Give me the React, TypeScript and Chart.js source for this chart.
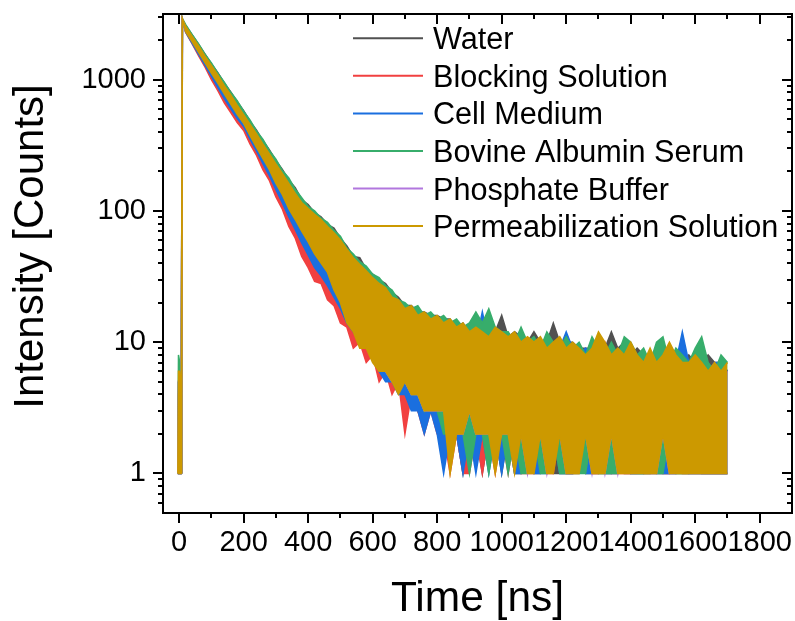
import { useEffect, useRef } from 'react';
import { Chart, registerables } from 'chart.js';

Chart.register(...registerables);

const FONT = '"Liberation Sans", Arial, Helvetica, sans-serif';

// Time channels (ns): a short pre-pulse, the excitation edge, then the decay sampled every 20 ns.
const TIME_NS = [
  -4, -2, 2, 6, 8, 10,
  20, 40, 60, 80, 100, 120, 140, 160, 180, 200,
  220, 240, 260, 280, 300, 320, 340, 360, 380, 400,
  420, 440, 460, 480, 500, 520, 540, 560, 580, 600,
  620, 640, 660, 680, 700, 720, 740, 760, 780, 800,
  820, 840, 860, 880, 900, 920, 940, 960, 980, 1000,
  1020, 1040, 1060, 1080, 1100, 1120, 1140, 1160, 1180, 1200,
  1220, 1240, 1260, 1280, 1300, 1320, 1340, 1360, 1380, 1400,
  1420, 1440, 1460, 1480, 1500, 1520, 1540, 1560, 1580, 1600,
  1620, 1640, 1660, 1680, 1700,
];

// Highest and lowest photon counts recorded in each time channel.
const WATER_UPPER = [
  1, 5, 6, 4, 1, 2880,
  2600, 2200, 1860, 1570, 1320, 1130, 945, 805, 680, 580,
  480, 412, 342, 292, 242, 207, 172, 150, 122, 112,
  97, 90, 79, 74, 62, 54, 45, 44, 36, 33,
  30, 28, 24, 22, 19, 19, 17, 17, 16, 16,
  15, 15, 13, 14, 12, 13, 11, 13, 12, 16,
  11, 12, 11, 10, 12, 10, 10, 14, 10, 10,
  10, 9, 9, 9, 10, 9, 12, 9, 10, 8,
  9, 8, 8, 8, 9, 8, 8, 7, 8, 7,
  7, 8, 7, 7, 6,
];
const WATER_LOWER = [
  1, 1, 1, 1, 1, 2880,
  2370, 1990, 1660, 1380, 1160, 975, 815, 685, 570, 478,
  398, 328, 268, 222, 178, 146, 118, 96, 79, 66,
  54, 45, 38, 30, 24, 18, 14, 12, 10, 8,
  7, 7, 6, 5, 4, 4, 3, 4, 3, 3,
  2, 3, 2, 1, 2, 2, 1, 2, 2, 1,
  2, 1, 1, 2, 1, 1, 2, 1, 1, 1,
  1, 2, 1, 1, 1, 1, 1, 2, 1, 1,
  1, 1, 1, 2, 1, 1, 1, 1, 1, 2,
  1, 1, 1, 1, 1,
];

const BLOCKING_UPPER = [
  1, 4, 5, 3, 1, 2860,
  2450, 2030, 1680, 1390, 1150, 950, 790, 660, 555, 470,
  395, 330, 275, 225, 188, 155, 128, 106, 88, 75,
  64, 56, 48, 42, 36, 32, 28, 25, 22, 20,
  18, 16, 15, 14, 13, 12, 12, 11, 11, 10,
  10, 11, 10, 9, 10, 9, 10, 9, 8, 9,
  9, 8, 9, 8, 9, 8, 8, 9, 8, 7,
  8, 7, 8, 7, 8, 10, 7, 8, 7, 7,
  7, 8, 7, 7, 8, 7, 7, 6, 7, 7,
  7, 6, 7, 6, 6,
];
const BLOCKING_LOWER = [
  1, 1, 1, 1, 1, 2860,
  2300, 1880, 1520, 1250, 1000, 825, 665, 560, 470, 410,
  322, 265, 205, 170, 128, 103, 76, 62, 45, 37,
  29, 28, 21, 19, 14, 13, 9, 10, 7, 8,
  5, 6, 4, 5, 2, 4, 3, 2, 3, 2,
  2, 1, 2, 1, 1, 2, 1, 2, 1, 2,
  1, 2, 1, 1, 1, 2, 1, 1, 2, 1,
  1, 1, 2, 1, 1, 2, 1, 1, 1, 1,
  2, 1, 1, 1, 1, 1, 2, 1, 1, 1,
  1, 1, 1, 1, 1,
];

const CELL_UPPER = [
  1, 5, 4, 5, 1, 2870,
  2470, 2060, 1720, 1430, 1190, 990, 830, 695, 585, 495,
  415, 350, 292, 242, 200, 166, 138, 115, 96, 82,
  70, 62, 54, 47, 41, 36, 32, 28, 25, 22,
  20, 18, 17, 15, 14, 14, 13, 12, 13, 12,
  11, 12, 11, 10, 11, 10, 17, 10, 10, 9,
  10, 9, 10, 9, 8, 10, 9, 8, 9, 12,
  9, 8, 9, 8, 8, 9, 8, 8, 9, 8,
  8, 7, 8, 8, 7, 8, 7, 12, 7, 7,
  7, 6, 7, 7, 6,
];
const CELL_LOWER = [
  1, 1, 1, 1, 1, 2870,
  2310, 1900, 1560, 1290, 1060, 870, 715, 600, 505, 440,
  350, 285, 228, 185, 145, 115, 90, 72, 57, 46,
  37, 32, 27, 22, 18, 14, 12, 10, 9, 8,
  6, 5, 5, 4, 4, 3, 3, 2, 3, 2,
  1, 2, 2, 1, 2, 1, 2, 1, 2, 1,
  2, 1, 1, 2, 1, 1, 1, 2, 1, 1,
  1, 2, 1, 1, 2, 1, 1, 1, 2, 1,
  1, 1, 2, 1, 1, 1, 1, 2, 1, 1,
  1, 1, 1, 1, 1,
];

const BOVINE_UPPER = [
  1, 8, 7, 6, 1, 2920,
  2630, 2210, 1880, 1560, 1340, 1120, 955, 800, 690, 575,
  490, 405, 350, 288, 248, 203, 178, 146, 126, 108,
  100, 88, 82, 71, 64, 52, 47, 41, 38, 33,
  31, 27, 25, 21, 20, 18, 19, 16, 17, 15,
  16, 14, 15, 13, 14, 17, 14, 18, 13, 12,
  12, 10, 13, 10, 11, 9, 12, 10, 9, 11,
  9, 10, 8, 11, 9, 8, 10, 8, 11, 10,
  8, 9, 7, 10, 11, 7, 9, 8, 7, 9,
  11, 7, 6, 8, 7,
];
const BOVINE_LOWER = [
  1, 1, 1, 1, 1, 2920,
  2380, 2000, 1670, 1390, 1170, 980, 820, 690, 575, 480,
  400, 330, 270, 225, 180, 148, 120, 98, 80, 67,
  55, 46, 39, 31, 25, 19, 15, 12, 10, 9,
  8, 7, 6, 5, 5, 4, 4, 3, 4, 3,
  2, 2, 3, 2, 1, 2, 2, 1, 2, 2,
  1, 2, 1, 1, 2, 1, 1, 2, 1, 1,
  1, 1, 1, 2, 1, 1, 1, 1, 2, 1,
  1, 1, 1, 1, 1, 2, 1, 1, 1, 1,
  1, 1, 1, 1, 1,
];

const PHOSPHATE_UPPER = [
  1, 5, 5, 4, 1, 2890,
  2500, 2100, 1770, 1480, 1250, 1055, 880, 745, 625, 528,
  445, 376, 315, 266, 222, 188, 158, 133, 113, 100,
  90, 82, 73, 65, 57, 49, 43, 38, 34, 30,
  27, 24, 21, 20, 17, 17, 16, 15, 14, 14,
  13, 13, 12, 12, 11, 12, 11, 10, 11, 11,
  10, 10, 9, 10, 9, 10, 8, 9, 10, 8,
  9, 8, 7, 8, 7, 9, 7, 8, 7, 7,
  7, 6, 8, 6, 7, 6, 7, 6, 6, 7,
  6, 5, 6, 5, 6,
];
const PHOSPHATE_LOWER = [
  1, 1, 1, 1, 1, 2890,
  2360, 1980, 1650, 1380, 1150, 960, 800, 665, 560, 468,
  385, 315, 258, 212, 168, 138, 108, 89, 73, 61,
  50, 42, 35, 27, 22, 16, 13, 10, 9, 8,
  7, 6, 5, 5, 5, 4, 4, 3, 3, 3,
  3, 2, 2, 2, 3, 2, 2, 2, 2, 2,
  2, 2, 2, 1, 2, 2, 1, 2, 2, 1,
  1, 2, 2, 1, 2, 1, 2, 1, 2, 1,
  1, 2, 1, 1, 2, 1, 1, 2, 1, 1,
  1, 1, 1, 1, 1,
];

const PERMEABILIZATION_UPPER = [
  1, 6, 6, 5, 1, 2900,
  2550, 2140, 1810, 1510, 1280, 1080, 900, 765, 640, 540,
  455, 385, 322, 272, 228, 193, 162, 136, 116, 104,
  94, 86, 76, 68, 60, 51, 44, 39, 35, 31,
  28, 26, 22, 21, 18, 19, 16, 17, 15, 16,
  14, 15, 13, 14, 12, 13, 12, 11, 13, 12,
  11, 12, 10, 11, 10, 11, 9, 10, 11, 9,
  10, 9, 8, 9, 12, 10, 8, 9, 8, 10,
  8, 7, 9, 7, 8, 10, 8, 7, 7, 8,
  7, 6, 7, 6, 7,
];
const PERMEABILIZATION_LOWER = [
  1, 1, 1, 1, 1, 2900,
  2330, 1950, 1620, 1350, 1120, 940, 780, 650, 545, 465,
  375, 305, 250, 205, 162, 133, 104, 86, 70, 58,
  47, 40, 34, 25, 20, 14, 12, 9, 9, 7,
  6, 6, 5, 4, 5, 4, 4, 3, 3, 3,
  3, 1, 2, 2, 3, 2, 2, 2, 1, 2,
  2, 1, 2, 1, 1, 2, 1, 1, 2, 1,
  1, 1, 2, 1, 1, 1, 2, 1, 1, 1,
  1, 1, 1, 1, 2, 1, 1, 1, 1, 1,
  1, 1, 1, 1, 1,
];

const X_TICKS = [0, 200, 400, 600, 800, 1000, 1200, 1400, 1600, 1800];
const X_MINOR_TICKS = [100, 300, 500, 700, 900, 1100, 1300, 1500, 1700];
const Y_TICKS = [1, 10, 100, 1000];
const Y_MINOR_TICKS = [
  0.6, 0.7, 0.8, 0.9,
  2, 3, 4, 5, 6, 7, 8, 9,
  20, 30, 40, 50, 60, 70, 80, 90,
  200, 300, 400, 500, 600, 700, 800, 900,
  2000, 3000,
];

const SERIES = [
  { label: 'Water', color: '#515151', upper: WATER_UPPER, lower: WATER_LOWER },
  { label: 'Blocking Solution', color: '#F14040', upper: BLOCKING_UPPER, lower: BLOCKING_LOWER },
  { label: 'Cell Medium', color: '#1A6FDF', upper: CELL_UPPER, lower: CELL_LOWER },
  { label: 'Bovine Albumin Serum', color: '#37AD6B', upper: BOVINE_UPPER, lower: BOVINE_LOWER },
  { label: 'Phosphate Buffer', color: '#B177DE', upper: PHOSPHATE_UPPER, lower: PHOSPHATE_LOWER },
  { label: 'Permeabilization Solution', color: '#CC9900', upper: PERMEABILIZATION_UPPER, lower: PERMEABILIZATION_LOWER },
];

const toPoints = (values: number[]) => TIME_NS.map((t, i) => ({ x: t, y: values[i] }));

// Each curve is a band: the upper trace is filled down to its lower trace.
const datasets: any[] = [];
SERIES.forEach((s, k) => {
  const order = SERIES.length - k;
  datasets.push({
    label: s.label,
    data: toPoints(s.upper),
    borderColor: s.color,
    backgroundColor: s.color,
    borderWidth: 1.5,
    pointRadius: 0,
    tension: 0,
    fill: '+1',
    order,
  });
  datasets.push({
    label: s.label + ' min',
    data: toPoints(s.lower),
    borderColor: s.color,
    backgroundColor: s.color,
    borderWidth: 1.5,
    pointRadius: 0,
    tension: 0,
    fill: false,
    order,
  });
});

// Closed frame with outward ticks on bottom/left and inward ticks on top/right.
const framePlugin = {
  id: 'decayFrame',
  afterDraw(chart: any) {
    const { ctx, chartArea: a, scales } = chart;
    const xs = scales.x;
    const ys = scales.y;
    ctx.save();
    ctx.strokeStyle = '#000';
    ctx.lineWidth = 2;
    ctx.beginPath();
    const xTick = (v: number, len: number) => {
      const p = Math.round(xs.getPixelForValue(v));
      ctx.moveTo(p, a.bottom);
      ctx.lineTo(p, a.bottom + len);
      ctx.moveTo(p, a.top);
      ctx.lineTo(p, a.top + len);
    };
    const yTick = (v: number, len: number) => {
      const p = Math.round(ys.getPixelForValue(v));
      ctx.moveTo(a.left - len, p);
      ctx.lineTo(a.left, p);
      ctx.moveTo(a.right - len, p);
      ctx.lineTo(a.right, p);
    };
    X_TICKS.forEach((v) => xTick(v, 10));
    X_MINOR_TICKS.forEach((v) => xTick(v, 5));
    Y_TICKS.forEach((v) => yTick(v, 10));
    Y_MINOR_TICKS.forEach((v) => yTick(v, 5));
    ctx.stroke();
    ctx.strokeRect(a.left, a.top, a.right - a.left, a.bottom - a.top);
    ctx.restore();
  },
};

const legendPlugin = {
  id: 'decayLegend',
  afterDraw(chart: any) {
    const { ctx, chartArea: a } = chart;
    ctx.save();
    ctx.font = `30.6px ${FONT}`;
    ctx.textAlign = 'left';
    ctx.textBaseline = 'alphabetic';
    SERIES.forEach((s, i) => {
      const y = a.top + 24.3 + 37.55 * i;
      ctx.strokeStyle = s.color;
      ctx.lineWidth = 2;
      ctx.beginPath();
      ctx.moveTo(a.right - 439, y);
      ctx.lineTo(a.right - 369, y);
      ctx.stroke();
      ctx.fillStyle = '#000';
      ctx.fillText(s.label, a.right - 359, y + 11);
    });
    ctx.restore();
  },
};

const titlePlugin = {
  id: 'decayTitles',
  afterDraw(chart: any) {
    const { ctx, chartArea: a } = chart;
    ctx.save();
    ctx.font = `42.5px ${FONT}`;
    ctx.fillStyle = '#000';
    ctx.textAlign = 'center';
    ctx.textBaseline = 'alphabetic';
    ctx.fillText('Time [ns]', (a.left + a.right) / 2, a.bottom + 98);
    ctx.font = `42px ${FONT}`;
    ctx.translate(a.left - 120, (a.top + a.bottom) / 2 - 17);
    ctx.rotate(-Math.PI / 2);
    ctx.fillText('Intensity [Counts]', 0, 0);
    ctx.restore();
  },
};

// Fixed axis boxes so the plotting area keeps its size regardless of label overflow.
const fixBox = (size: { width?: number; height?: number }) => (scale: any) => {
  if (size.width !== undefined) scale.width = size.width;
  if (size.height !== undefined) scale.height = size.height;
  scale.paddingLeft = 0;
  scale.paddingRight = 0;
  scale.paddingTop = 0;
  scale.paddingBottom = 0;
};

export default function App() {
  const canvasRef = useRef<HTMLCanvasElement>(null);

  useEffect(() => {
    const canvas = canvasRef.current;
    if (!canvas) return;
    const tickFont = { family: FONT, size: 29 };
    const chart = new Chart(canvas, {
      type: 'line',
      data: { datasets },
      options: {
        animation: false,
        responsive: false,
        devicePixelRatio: 1,
        parsing: false as any,
        normalized: true,
        layout: { padding: { top: 14, right: 3, left: 0, bottom: 0 } },
        plugins: {
          legend: { display: false },
          tooltip: { enabled: false },
        },
        scales: {
          x: {
            type: 'linear',
            min: -50,
            max: 1900,
            afterBuildTicks: (scale: any) => {
              scale.ticks = X_TICKS.map((value) => ({ value }));
            },
            afterFit: fixBox({ height: 108 }),
            grid: { display: false, drawTicks: false },
            border: { display: false },
            ticks: {
              font: tickFont,
              color: '#000',
              padding: 13,
              autoSkip: false,
              maxRotation: 0,
              minRotation: 0,
              callback: (v: any) => String(v),
            },
          },
          y: {
            type: 'logarithmic',
            min: 0.5,
            max: 3160,
            afterBuildTicks: (scale: any) => {
              scale.ticks = Y_TICKS.map((value) => ({ value }));
            },
            afterFit: fixBox({ width: 163 }),
            grid: { display: false, drawTicks: false },
            border: { display: false },
            ticks: {
              font: tickFont,
              color: '#000',
              padding: 17,
              autoSkip: false,
              callback: (v: any) => String(v),
            },
          },
        },
      },
      plugins: [framePlugin, legendPlugin, titlePlugin],
    } as any);
    return () => chart.destroy();
  }, []);

  return (
    <div style={{ position: 'absolute', left: 0, top: 0, width: 795, height: 621, background: '#fff' }}>
      <canvas ref={canvasRef} width={795} height={621} style={{ display: 'block' }} />
    </div>
  );
}
